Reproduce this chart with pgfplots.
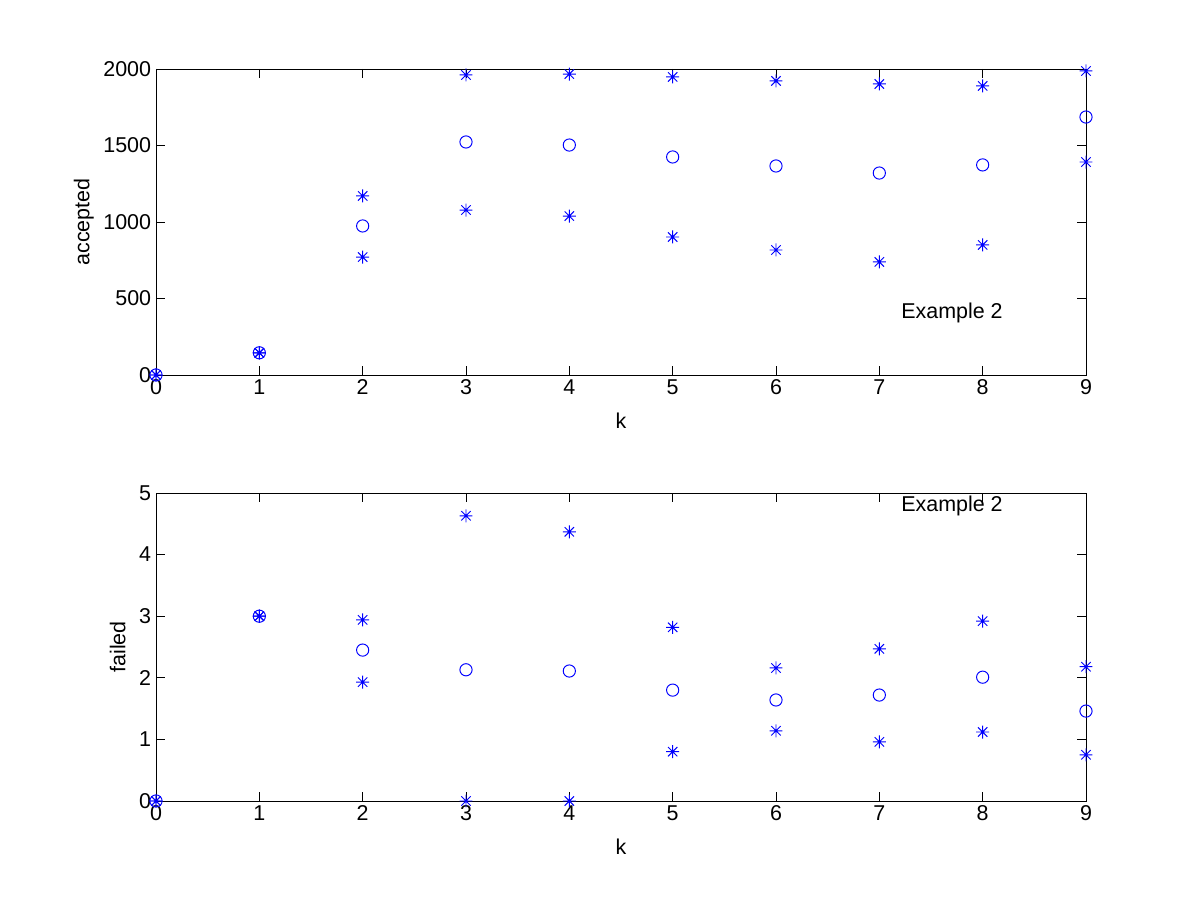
\documentclass[border=0pt]{standalone}
\usepackage{fontspec}
\setmainfont{Liberation Sans}
\usepackage{pgfplots}
\pgfplotsset{compat=1.18}

% MATLAB-style '*' marker: + and x overlaid
\pgfdeclareplotmark{mstar}{%
  \pgfpathmoveto{\pgfqpoint{-\pgfplotmarksize}{0pt}}%
  \pgfpathlineto{\pgfqpoint{\pgfplotmarksize}{0pt}}%
  \pgfpathmoveto{\pgfqpoint{0pt}{-\pgfplotmarksize}}%
  \pgfpathlineto{\pgfqpoint{0pt}{\pgfplotmarksize}}%
  \pgfpathmoveto{\pgfqpoint{-0.72\pgfplotmarksize}{-0.72\pgfplotmarksize}}%
  \pgfpathlineto{\pgfqpoint{0.72\pgfplotmarksize}{0.72\pgfplotmarksize}}%
  \pgfpathmoveto{\pgfqpoint{-0.72\pgfplotmarksize}{0.72\pgfplotmarksize}}%
  \pgfpathlineto{\pgfqpoint{0.72\pgfplotmarksize}{-0.72\pgfplotmarksize}}%
  \pgfusepathqstroke}

\pgfplotsset{
  mlab/.style={
    scale only axis, anchor=south west,
    width=236.22mm,
    xmin=0, xmax=9, xtick={0,...,9},
    xtick pos=both, ytick pos=both, tick align=inside,
    major tick length=2.3mm,
    axis line style={line width=0.7pt}, tick style={line width=0.7pt, black},
    every tick label/.append style={font=\fontsize{15.5}{18}\selectfont},
    label style={font=\fontsize{15.5}{18}\selectfont},
    /pgf/number format/assume math mode=true,
    /pgf/number format/1000 sep={},
    xlabel={k},
    xlabel style={yshift=-6pt},
    clip=false,
  },
  circ/.style={only marks, blue, mark=o, mark size=1.55mm, line width=0.7pt},
  ast/.style={only marks, blue, mark=mstar, mark size=1.65mm, line width=0.7pt},
}

\begin{document}
\begin{tikzpicture}
\path[use as bounding box] (0,0) rectangle (304.8mm,228.6mm);

\begin{axis}[mlab, at={(39.624mm,133.35mm)}, height=77.724mm,
  ymin=0, ymax=2000, ytick={0,500,1000,1500,2000},
  ylabel={accepted}, ylabel style={yshift=0pt}]
  \addplot[circ] coordinates {
    (0,0) (1,145) (2,974) (3,1523) (4,1503) (5,1425) (6,1366) (7,1320) (8,1373) (9,1686)
  };
  \addplot[ast] coordinates {
    (0,0) (1,145) (2,1170) (3,1961) (4,1967) (5,1948) (6,1922) (7,1902) (8,1889) (9,1987)
  };
  \addplot[ast] coordinates {
    (0,0) (1,145) (2,771) (3,1078) (4,1039) (5,902) (6,817) (7,739) (8,850) (9,1392)
  };
  \node[anchor=west, inner sep=0pt, font=\fontsize{15.5}{18}\selectfont] at (axis cs:7.21,405) {Example 2};
\end{axis}

\begin{axis}[mlab, at={(39.624mm,25.146mm)}, height=78.232mm,
  ymin=0, ymax=5, ytick={0,...,5},
  ylabel={failed}, ylabel style={yshift=3pt}]
  \addplot[circ] coordinates {
    (0,0) (1,3.0) (2,2.45) (3,2.13) (4,2.11) (5,1.80) (6,1.64) (7,1.72) (8,2.01) (9,1.46)
  };
  \addplot[ast] coordinates {
    (0,0) (1,3.0) (2,2.94) (3,4.63) (4,4.37) (5,2.82) (6,2.16) (7,2.47) (8,2.92) (9,2.18)
  };
  \addplot[ast] coordinates {
    (0,0) (1,3.0) (2,1.93) (3,0) (4,0) (5,0.80) (6,1.14) (7,0.96) (8,1.12) (9,0.75)
  };
  \node[anchor=west, inner sep=0pt, font=\fontsize{15.5}{18}\selectfont] at (axis cs:7.21,4.79) {Example 2};
\end{axis}
\end{tikzpicture}
\end{document}
